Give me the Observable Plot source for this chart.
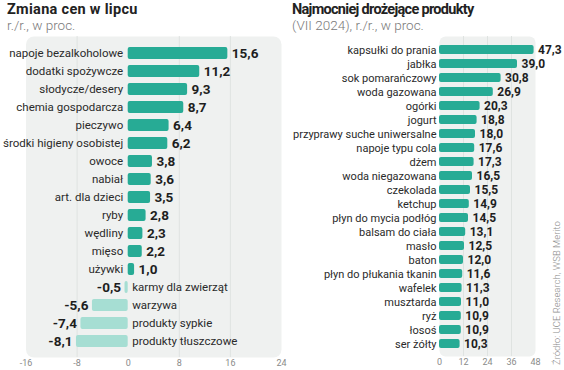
<!DOCTYPE html>
<html><head><meta charset="utf-8">
<script src="https://cdn.jsdelivr.net/npm/d3@7"></script>
<script src="https://cdn.jsdelivr.net/npm/@observablehq/plot@0.6"></script>
<style>
body{margin:0;width:564px;height:370px;background:#fff;font-family:Roboto,sans-serif;position:relative;overflow:hidden}
.t{position:absolute;font-weight:700;font-size:14.5px;color:#222;white-space:nowrap;line-height:16px}
.s{position:absolute;font-size:13.5px;color:#7a7a7a;font-weight:300;white-space:nowrap;line-height:14px}
#left{position:absolute;left:0;top:32px}
#right{position:absolute;left:290px;top:32px}
.src{position:absolute;left:551.5px;top:365px;transform:rotate(-90deg);transform-origin:0 0;white-space:nowrap;font-size:9.5px;line-height:9px;color:#8a8a8a;font-weight:300}
</style></head>
<body>
<div class="t" style="left:7px;top:2px;letter-spacing:0.3px">Zmiana cen w lipcu</div>
<div class="s" style="left:7px;top:18px">r./r., w proc.</div>
<div class="t" style="left:292px;top:2px;letter-spacing:-0.7px">Najmocniej drożejące produkty</div>
<div class="s" style="left:292px;top:18px">(VII 2024), r./r., w proc.</div>
<div id="left"></div>
<div id="right"></div>
<div class="src">Źródło: UCE Research, WSB Merito</div>
<script>
const leftCategories = ["napoje bezalkoholowe","dodatki spożywcze","słodycze/desery","chemia gospodarcza","pieczywo","środki higieny osobistej","owoce","nabiał","art. dla dzieci","ryby","wędliny","mięso","używki","karmy dla zwierząt","warzywa","produkty sypkie","produkty tłuszczowe"];
const leftValues = [15.6,11.2,9.3,8.7,6.4,6.2,3.8,3.6,3.5,2.8,2.3,2.2,1.0,-0.5,-5.6,-7.4,-8.1];
const leftTicks = [-16,-8,0,8,16,24];

const rightCategories = ["kapsułki do prania","jabłka","sok pomarańczowy","woda gazowana","ogórki","jogurt","przyprawy suche uniwersalne","napoje typu cola","dżem","woda niegazowana","czekolada","ketchup","płyn do mycia podłóg","balsam do ciała","masło","baton","płyn do płukania tkanin","wafelek","musztarda","ryż","łosoś","ser żółty"];
const rightValues = [47.3,39.0,30.8,26.9,20.3,18.8,18.0,17.6,17.3,16.5,15.5,14.9,14.5,13.1,12.5,12.0,11.6,11.3,11.0,10.9,10.9,10.3];
const rightTicks = [0,12,24,36,48];

const posColor = "#27ab95", negColor = "#a6ded3";
const panel = "#eff1f0", gridColor = "#dfe3e1";
const fmt = v => v.toFixed(1).replace(".", ",");
const labelFont = {fontSize: 11.5, fill: "#2a2a2a"};
const valueFont = {fontSize: 13.5, fontWeight: 700, fill: "#1e1e1e"};

const L = leftCategories.map((c, i) => ({c, v: leftValues[i]}));
const Lpos = L.filter(d => d.v > 0), Lneg = L.filter(d => d.v < 0);

const left = Plot.plot({
  width: 290, height: 338,
  marginLeft: 25.5, marginRight: 9, marginTop: 4, marginBottom: 13,
  style: {fontFamily: "Roboto, sans-serif", background: "transparent"},
  x: {domain: [-16, 24], label: null},
  y: {type: "band", domain: leftCategories, paddingInner: 0.35, paddingOuter: 0.175, axis: null},
  marks: [
    Plot.frame({fill: panel, rx: 8, stroke: "none"}),
    Plot.gridX([-8, 8, 16], {stroke: gridColor, strokeOpacity: 1}),
    Plot.axisX(leftTicks, {tickSize: 0, tickPadding: 2, fontSize: 9, fill: "#8a8a8a", tickFormat: d => d, label: null}),
    Plot.barX(Lpos, {x: "v", y: "c", fill: posColor, rx: 2}),
    Plot.barX(Lneg, {x: "v", y: "c", fill: negColor, rx: 2}),
    Plot.text(Lpos, {x: 0, y: "c", text: "c", textAnchor: "end", dx: -5, ...labelFont}),
    Plot.text(Lneg, {x: 0, y: "c", text: "c", textAnchor: "start", dx: 4, ...labelFont}),
    Plot.text(Lpos, {x: "v", y: "c", text: d => fmt(d.v), textAnchor: "start", dx: 4, ...valueFont}),
    Plot.text(Lneg, {x: "v", y: "c", text: d => fmt(d.v), textAnchor: "end", dx: -4, ...valueFont})
  ]
});
document.getElementById("left").appendChild(left);

const R = rightCategories.map((c, i) => ({c, v: rightValues[i]}));
const right = Plot.plot({
  width: 274, height: 338,
  marginLeft: 149, marginRight: 29, marginTop: 4, marginBottom: 14,
  style: {fontFamily: "Roboto, sans-serif", background: "transparent"},
  x: {domain: [0, 48], label: null},
  y: {type: "band", domain: rightCategories, paddingInner: 0.36, paddingOuter: 0.18, axis: null},
  marks: [
    Plot.frame({fill: panel, rx: 6, stroke: "none"}),
    Plot.gridX([12, 24, 36], {stroke: gridColor, strokeOpacity: 1}),
    Plot.axisX(rightTicks, {tickSize: 0, tickPadding: 2, fontSize: 9, fill: "#8a8a8a", tickFormat: d => d, label: null}),
    Plot.barX(R, {x: "v", y: "c", fill: posColor, rx: 2}),
    Plot.text(R, {x: 0, y: "c", text: "c", textAnchor: "end", dx: -3, fontSize: 11, fill: "#2a2a2a"}),
    Plot.text(R, {x: "v", y: "c", text: d => fmt(d.v), textAnchor: "start", dx: 4, fontSize: 12, fontWeight: 700, fill: "#1e1e1e"})
  ]
});
document.getElementById("right").appendChild(right);
</script>
</body></html>
